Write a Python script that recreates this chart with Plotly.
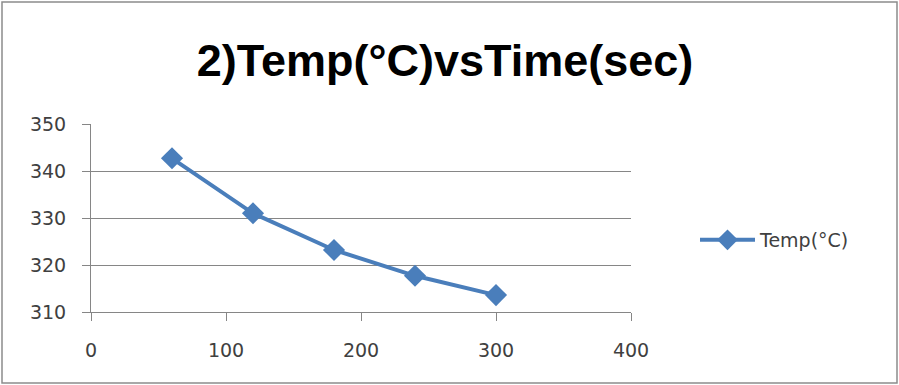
import plotly.graph_objects as go

# Temperature readings over time
time_sec = [60, 120, 180, 240, 300]
temp_c = [342.7, 331.0, 323.2, 317.7, 313.6]

x_ticks = [0, 100, 200, 300, 400]
y_ticks = [310, 320, 330, 340, 350]

W, H = 899, 385
ML, MR, MT, MB = 91, 268, 124, 73
pw, ph = W - ML - MR, H - MT - MB

fig = go.Figure()
fig.add_trace(go.Scatter(
    x=time_sec, y=temp_c, mode="lines+markers", name="Temp(°C)",
    line=dict(color="#4A7EBB", width=4),
    marker=dict(symbol="diamond", size=17, color="#4A7EBB"),
))

axis_font = dict(family="DejaVu Sans, sans-serif", size=19, color="#404040")

fig.update_layout(
    width=W, height=H,
    margin=dict(l=ML, r=MR, t=MT, b=MB),
    paper_bgcolor="white", plot_bgcolor="white",
    title=dict(
        text="<b>2)Temp(°C)vsTime(sec)</b>",
        x=(445 - ML) / pw, xref="paper", xanchor="center",
        y=1 - 60 / H, yref="container", yanchor="middle",
        font=dict(family="Liberation Sans, sans-serif", size=45, color="black"),
    ),
    legend=dict(
        x=(695 - ML) / pw, y=(312 - 240) / ph, xanchor="left", yanchor="middle",
        font=dict(family="DejaVu Sans, sans-serif", size=19, color="#404040"),
        bgcolor="rgba(0,0,0,0)", itemwidth=55,
    ),
    showlegend=True,
    xaxis=dict(
        range=[0, 400], tickvals=x_ticks, showgrid=False, zeroline=False,
        showline=True, linecolor="#868686", linewidth=1,
        ticks="outside", ticklen=8, tickcolor="#868686",
        tickfont=axis_font, ticklabelstandoff=13,
    ),
    yaxis=dict(
        range=[310, 350], tickvals=y_ticks, showgrid=True, gridcolor="#868686",
        gridwidth=1, zeroline=False,
        showline=True, linecolor="#868686", linewidth=1,
        ticks="outside", ticklen=8, tickcolor="#868686",
        tickfont=axis_font, ticklabelstandoff=12,
    ),
    shapes=[dict(
        type="rect", xref="paper", yref="paper",
        x0=-(ML - 2) / pw, x1=1 + (MR - 2) / pw,
        y0=-(MB - 2) / ph, y1=1 + (MT - 2) / ph,
        line=dict(color="#8C8C8C", width=1.5), fillcolor="rgba(0,0,0,0)",
        layer="below",
    )],
)

fig.write_html("out.html")
